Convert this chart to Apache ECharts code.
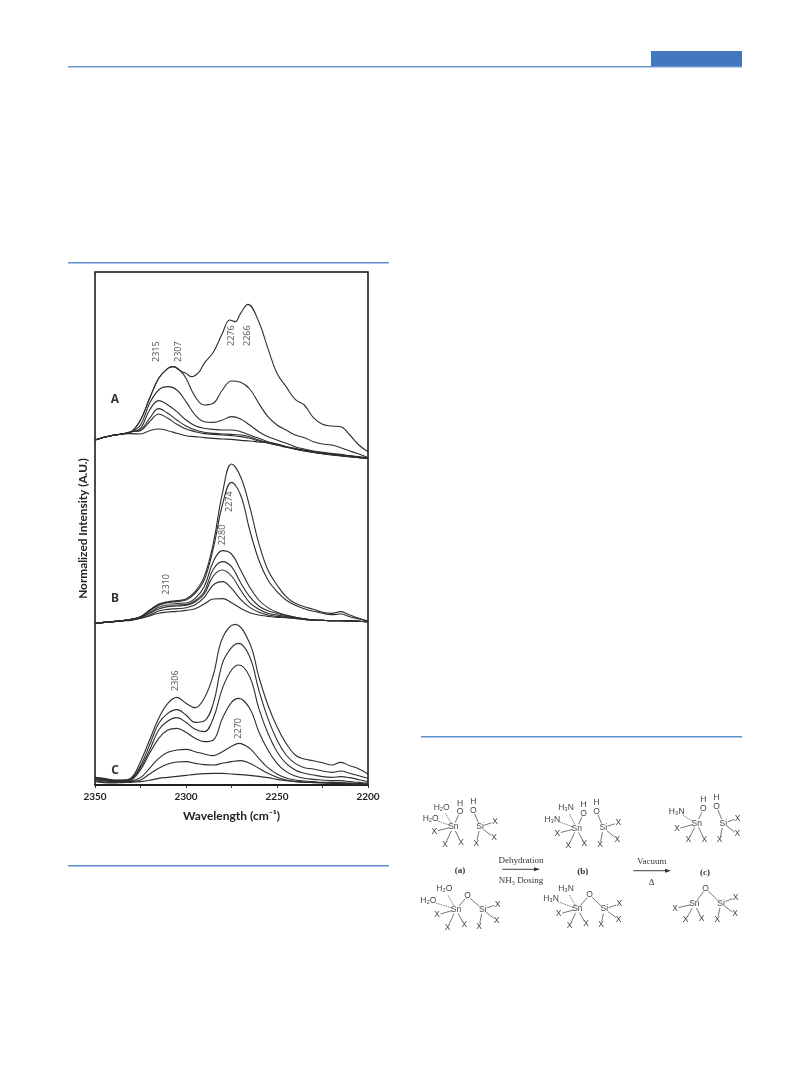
<!DOCTYPE html>
<html>
<head>
<meta charset="utf-8">
<style>html,body{margin:0;padding:0;background:#fff}#c{width:809px;height:1067px}</style>
<script src="https://cdn.jsdelivr.net/npm/echarts@6/dist/echarts.min.js"></script>
</head>
<body>
<div id="c"></div>
<script>
// wavenumber grids (cm-1)
const waves = [2350,2345,2340,2335,2330,2325,2320,2315,2310,2305,2300,2295,2290,2285,2280,2275,2270,2265,2260,2255,2250,2245,2240,2235,2230,2225,2220,2215,2210,2205,2200];
const wavesA1 = [2350,2345,2340,2335,2330,2325,2320,2315,2310,2307,2303,2300,2297,2293,2290,2285,2280,2276,2273,2270,2266,2260,2255,2250,2245,2240,2235,2230,2225,2220,2215,2210,2205,2200];
const wavesA2 = [2350,2345,2340,2335,2330,2325,2320,2315,2310,2307,2303,2300,2295,2290,2285,2280,2275,2270,2265,2260,2255,2250,2245,2240,2235,2230,2225,2220,2215,2210,2205,2200];
const wavesC1 = [2350,2345,2340,2335,2330,2325,2320,2315,2310,2305,2300,2295,2290,2285,2280,2273,2265,2260,2255,2250,2245,2240,2235,2230,2225,2220,2215,2210,2205,2200];
const wavesCmid = [2350,2345,2340,2335,2330,2325,2320,2315,2310,2305,2300,2295,2290,2285,2280,2275,2271,2265,2260,2255,2250,2245,2240,2235,2230,2225,2220,2215,2210,2205,2200];
// vertical offsets of the three stacked panels (normalized intensity units)
const offsetA = 980, offsetB = 485, offsetC = 0;
const intensityMax = 1539;

const panelA1 = [55,63,69,73,80,115,180,240,270,275,262,255,245,258,285,318,375,415,410,435,462,410,330,255,215,177,160,122,102,97,95,70,40,20];
const panelA2 = [55,63,69,73,80,115,180,240,270,275,262,240,185,160,165,205,232,228,208,165,125,100,85,70,62,50,43,40,32,22,13,2];
const panelA3 = [55,63,69,73,80,100,165,205,215,205,170,130,110,108,115,125,118,100,80,65,55,45,35,28,22,18,15,12,8,5,2];
const panelA4 = [55,63,69,73,80,90,145,173,160,140,115,98,90,87,85,85,80,70,60,50,43,35,28,23,19,15,12,10,6,3,0];
const panelA5 = [55,63,69,73,80,85,120,149,135,115,97,85,78,75,73,72,70,65,55,48,42,35,28,23,18,14,11,8,5,2,0];
const panelA6 = [55,63,69,73,80,83,110,133,120,102,88,80,74,72,70,68,65,60,52,46,40,33,27,22,18,14,10,7,5,2,0];
const panelA7 = [55,63,69,73,74,73,83,88,83,75,68,65,62,60,58,57,54,52,49,46,40,35,30,25,20,16,12,9,6,3,2];

const panelB1 = [0,3,5,8,12,20,40,58,65,68,73,95,140,240,390,478,440,350,240,160,115,80,60,50,42,33,30,35,25,15,7];
const panelB2 = [0,3,5,8,12,20,38,55,63,66,70,90,130,225,355,423,385,280,190,130,95,70,54,44,36,30,26,28,20,13,6];
const panelB3 = [0,3,5,8,12,20,37,54,62,60,61,75,110,185,218,208,160,108,70,47,33,25,18,14,10,9,8,8,7,6,5];
const panelB4 = [0,3,5,8,12,18,32,48,55,55,56,68,95,162,185,170,122,80,52,38,30,23,18,14,10,9,8,8,7,6,5];
const panelB5 = [0,3,5,8,12,17,30,43,50,52,54,64,88,142,160,142,100,62,42,30,25,20,16,12,10,9,8,8,7,6,5];
const panelB6 = [0,3,5,8,11,15,25,37,42,44,47,56,78,115,125,105,72,48,33,25,21,18,15,12,10,9,8,8,7,6,5];
const panelB7 = [0,3,5,7,9,15,22,30,34,36,39,44,58,73,74,62,45,32,25,21,18,17,15,12,10,9,8,8,7,6,5];

const panelC1 = [23,20,15,15,22,70,135,200,245,263,245,232,260,330,440,482,425,325,240,175,125,90,78,73,67,60,68,58,48,33];
const panelC2 = [23,18,14,14,20,58,120,185,215,226,210,188,192,245,365,412,425,385,285,200,135,90,65,52,48,42,38,42,35,28,20];
const panelC3 = [20,16,13,13,18,52,105,165,192,202,188,167,160,200,290,345,360,325,230,155,100,65,45,35,30,25,23,25,22,16,10];
const panelC4 = [18,14,12,12,16,45,95,140,165,170,158,140,130,135,200,248,260,230,160,105,65,40,27,20,17,15,13,13,10,8,5];
const panelC5 = [15,12,10,11,13,22,50,80,98,105,107,100,93,88,100,116,125,110,80,52,33,21,15,12,10,8,8,7,6,4,3];
const panelC6 = [12,9,8,9,11,15,33,50,63,69,70,65,61,60,65,70,73,65,50,35,23,15,11,9,8,7,6,5,4,3,2];
const panelC7 = [10,7,6,7,8,10,14,20,23,26,29,32,34,35,35,33,31,29,26,22,17,13,10,8,7,6,5,4,3,2,0];

// peak annotations: [wavenumber, intensity, text]
const peakLabels = [[2316,1300,'2315'],[2304,1300,'2307'],[2275,1348,'2276'],[2266,1348,'2266'],[2310.5,602,'2310'],[2276,850,'2274'],[2280,750,'2280'],[2306,313,'2306'],[2271,170,'2270']];
const panelLetters = [[2339,1157,'A'],[2339,558,'B'],[2339,43,'C']];

function curve(xs, ys, off, name){
  return {type:'line', name, smooth:0.4, symbol:'none', silent:true,
    data: ys.map((v,i)=>[xs[i], v+off]),
    lineStyle:{color:'#2e2e2e', width:1.1}};
}
const series = [];
series.push(curve(wavesA1,panelA1,offsetA,'A1'));
series.push(curve(wavesA2,panelA2,offsetA,'A2'));
[panelA3,panelA4,panelA5,panelA6,panelA7].forEach((p,i)=>series.push(curve(waves,p,offsetA,'A'+(i+3))));
[panelB1,panelB2,panelB3,panelB4,panelB5,panelB6,panelB7].forEach((p,i)=>series.push(curve(waves,p,offsetB,'B'+(i+1))));
series.push(curve(wavesC1,panelC1,offsetC,'C1'));
[panelC2,panelC3,panelC4,panelC5].forEach((p,i)=>series.push(curve(wavesCmid,p,offsetC,'C'+(i+2))));
[panelC6,panelC7].forEach((p,i)=>series.push(curve(waves,p,offsetC,'C'+(i+6))));
series.push({type:'scatter', name:'peaks', symbolSize:1, itemStyle:{color:'rgba(0,0,0,0)'}, silent:true,
  data: peakLabels.map(d=>({value:[d[0],d[1]], label:{formatter:d[2]}})),
  label:{show:true, position:'inside', rotate:90, color:'#333', fontSize:9, fontFamily:'"Noto Sans",sans-serif'}});
series.push({type:'scatter', name:'letters', symbolSize:1, itemStyle:{color:'rgba(0,0,0,0)'}, silent:true,
  data: panelLetters.map(d=>({value:[d[0],d[1]], label:{formatter:d[2]}})),
  label:{show:true, position:'inside', color:'#000', fontSize:12, fontWeight:'bold', fontFamily:'"Noto Sans",sans-serif'}});

// --- page furniture ---
const graphic = [
  {type:'rect', shape:{x:651,y:51,width:91,height:15}, style:{fill:'#4178be'}},
  {type:'rect', shape:{x:68,y:66,width:674,height:1.6}, style:{fill:'#6f97cf'}},
  {type:'rect', shape:{x:68,y:262,width:321,height:1.6}, style:{fill:'#5f8ccb'}},
  {type:'rect', shape:{x:68,y:865,width:321,height:1.6}, style:{fill:'#5f8ccb'}},
  {type:'rect', shape:{x:421,y:736,width:321,height:1.6}, style:{fill:'#5f8ccb'}}
];

// --- reaction scheme ---
const ox = 415, oy = 790;
const schemeGroups = [
  {c:[115,110],dash:[[80,52],[47,85]],solid:[[135,66],[58,125],[90,163],[138,158]]},
  {c:[195,110],dash:[],solid:[[175,62],[240,95],[237,143],[184,160]]},
  {c:[123,358],dash:[[88,296],[40,332]],solid:[[158,318],[66,375],[98,412],[148,405]]},
  {c:[203,358],dash:[],solid:[[158,318],[248,343],[245,392],[192,410]]},
  {c:[485,115],dash:[[453,52],[412,88]],solid:[[506,70],[427,130],[460,167],[508,162]]},
  {c:[565,113],dash:[],solid:[[545,65],[610,98],[607,148],[555,165]]},
  {c:[487,357],dash:[[453,297],[408,327]],solid:[[524,315],[431,372],[464,408],[513,402]]},
  {c:[568,357],dash:[],solid:[[524,315],[613,342],[611,388],[558,405]]},
  {c:[845,100],dash:[[785,65]],solid:[[865,57],[786,117],[820,150],[868,148]]},
  {c:[925,100],dash:[],solid:[[905,50],[968,85],[967,132],[914,150]]},
  {c:[838,342],dash:[],solid:[[872,296],[780,355],[812,390],[860,385]]},
  {c:[918,340],dash:[],solid:[[872,296],[962,322],[960,372],[907,388]]}
];
const schemeAtoms = [
  ['H₂O',80,52],['H₂O',47,85],['Sn',115,110],['O',135,66],['H',135,40],['Si',195,110],['O',175,62],['H',175,35],['X',240,95],['X',237,143],['X',184,160],['X',58,125],['X',90,163],['X',138,158],
  ['H₂O',88,296],['H₂O',40,332],['Sn',123,358],['O',158,318],['Si',203,358],['X',248,343],['X',245,392],['X',192,410],['X',66,375],['X',98,412],['X',148,405],
  ['H₃N',453,52],['H₃N',412,88],['Sn',485,115],['O',506,70],['H',506,43],['Si',565,113],['O',545,65],['H',545,38],['X',610,98],['X',607,148],['X',555,165],['X',427,130],['X',460,167],['X',508,162],
  ['H₃N',453,297],['H₃N',408,327],['Sn',487,357],['O',524,315],['Si',568,357],['X',613,342],['X',611,388],['X',558,405],['X',431,372],['X',464,408],['X',513,402],
  ['H₃N',785,65],['Sn',845,100],['O',865,57],['H',865,30],['Si',925,100],['O',905,50],['H',905,24],['X',968,85],['X',967,132],['X',914,150],['X',786,117],['X',820,150],['X',868,148],
  ['Sn',838,342],['O',872,296],['Si',918,340],['X',962,322],['X',960,372],['X',907,388],['X',780,355],['X',812,390],['X',860,385]
];
const schemeCaptions = [
  ['(a)',135,243,true],['(b)',503,245,true],['(c)',870,247,true],
  ['Dehydration',318,212,false],['NH₃ Dosing',318,272,false],['Vacuum',710,215,false],['Δ',710,278,false]
];
const schemeArrows = [[262,238,375],[655,242,768]];
const P = (x,y)=>[ox+x/3, oy+y/3];
function bond(a,b,dashed){
  const [x1,y1]=P(a[0],a[1]),[x2,y2]=P(b[0],b[1]);
  const dx=x2-x1,dy=y2-y1,l=Math.hypot(dx,dy),s=4.5/l,e=(Math.abs(dx)>10&&dashed?7:3.5)/l;
  graphic.push({type:'line',shape:{x1:x1+dx*s,y1:y1+dy*s,x2:x2-dx*e,y2:y2-dy*e},
    style:{stroke:'#555',lineWidth:0.8,lineDash:dashed?[1.5,1]:null}});
}
schemeGroups.forEach(g=>{g.dash.forEach(t=>bond(g.c,t,true));g.solid.forEach(t=>bond(g.c,t,false));});
schemeAtoms.forEach(a=>{const [x,y]=P(a[1],a[2]);
  graphic.push({type:'text',x,y,style:{text:a[0],fill:'#444',font:'8.5px "Liberation Sans",sans-serif',textAlign:'center',textVerticalAlign:'middle'}});});
schemeCaptions.forEach(c=>{const [x,y]=P(c[1],c[2]);
  graphic.push({type:'text',x,y,style:{text:c[0],fill:'#333',font:(c[3]?'bold 9px':'9px')+' "Liberation Serif",serif',textAlign:'center',textVerticalAlign:'middle'}});});
schemeArrows.forEach(a=>{const [x1,y]=P(a[0],a[1]),[x2]=P(a[2],a[1]);
  graphic.push({type:'line',shape:{x1,y1:y,x2:x2-3,y2:y},style:{stroke:'#666',lineWidth:1.2}});
  graphic.push({type:'polygon',shape:{points:[[x2,y],[x2-6,y-2],[x2-6,y+2]]},style:{fill:'#333'}});});

const chart = echarts.init(document.getElementById('c'),null,{renderer:'canvas'});
chart.setOption({
  animation:false,
  backgroundColor:'#fff',
  grid:{left:95,top:272,width:273,height:513,show:true,borderColor:'#111',borderWidth:1.5,backgroundColor:'transparent'},
  xAxis:{type:'value',inverse:true,min:2200,max:2350,interval:25,
    name:'Wavelength (cm⁻¹)',nameLocation:'middle',nameGap:25,
    nameTextStyle:{fontFamily:'Lato,sans-serif',fontWeight:'bold',fontSize:12,color:'#222'},
    axisLine:{show:true,lineStyle:{color:'#111',width:1.5}},
    axisTick:{show:true,length:3,lineStyle:{color:'#333',width:1}},
    splitLine:{show:false},
    axisLabel:{margin:7,color:'#222',fontFamily:'Lato,sans-serif',fontWeight:'bold',fontSize:10,
      formatter:v=>v%50===0?String(v):''}},
  yAxis:{type:'value',min:0,max:intensityMax,
    name:'Normalized Intensity (A.U.)',nameLocation:'middle',nameGap:6,
    nameTextStyle:{fontFamily:'Lato,sans-serif',fontWeight:'bold',fontSize:11.8,color:'#222'},
    axisLine:{show:false},axisTick:{show:false},axisLabel:{show:false},splitLine:{show:false}},
  series,
  graphic:{elements:graphic}
});
</script>
</body>
</html>
